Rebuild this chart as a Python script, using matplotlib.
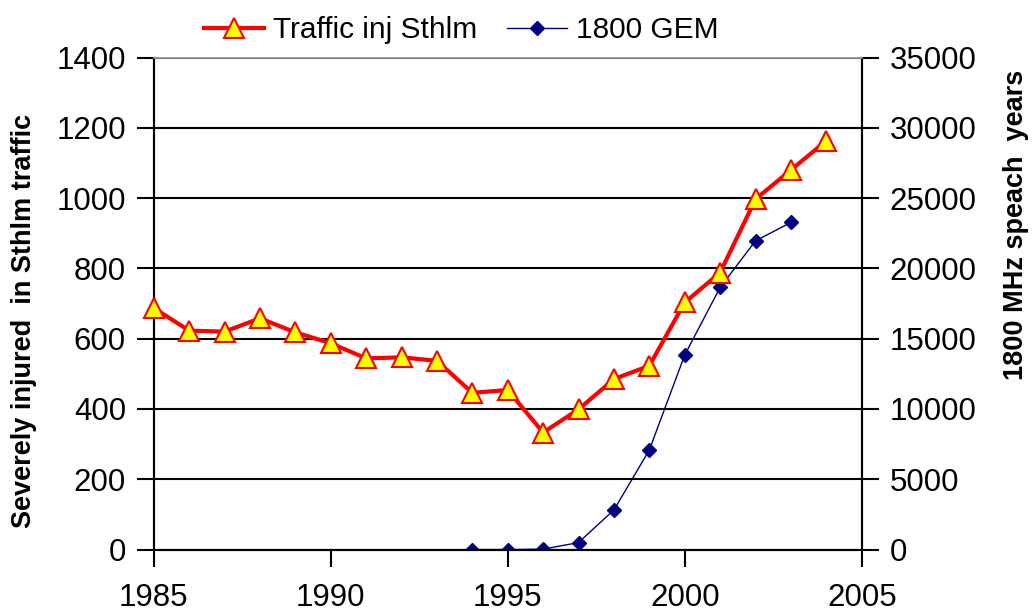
import matplotlib
matplotlib.use("Agg")
import matplotlib.pyplot as plt
from matplotlib.ticker import MultipleLocator

plt.rcParams['font.family'] = ['Liberation Sans', 'DejaVu Sans']

years_traffic = [1985, 1986, 1987, 1988, 1989, 1990, 1991, 1992, 1993, 1994,
                 1995, 1996, 1997, 1998, 1999, 2000, 2001, 2002, 2003, 2004]
traffic_injured = [687, 623, 620, 658, 618, 587, 544, 547, 537, 446,
                   454, 333, 399, 485, 523, 703, 788, 997, 1080, 1163]

years_gem = [1994, 1995, 1996, 1997, 1998, 1999, 2000, 2001, 2002, 2003]
gem_1800 = [0, 0, 30, 500, 2820, 7085, 13840, 18650, 21960, 23270]

left_label = "Severely injured  in Sthlm traffic"
right_label = "1800 MHz speach  years"
traffic_name = "Traffic inj Sthlm"
gem_name = "1800 GEM"

fig = plt.figure(figsize=(10.32, 6.12), dpi=100)
ax = fig.add_axes([0.149, 0.102, 0.686, 0.804])
ax2 = ax.twinx()

ax.set_xlim(1985, 2005)
ax.set_ylim(0, 1400)
ax2.set_ylim(0, 35000)

ax.yaxis.set_major_locator(MultipleLocator(200))
ax2.yaxis.set_major_locator(MultipleLocator(5000))
ax.xaxis.set_major_locator(MultipleLocator(5))

ax.grid(axis='y', color='black', linewidth=1.5)
ax.set_axisbelow(True)

for a in (ax, ax2):
    for s in a.spines.values():
        s.set_color('black')
        s.set_linewidth(1.5)
    a.spines['top'].set_color('#999999')
    a.spines['top'].set_linewidth(1.2)

ax.tick_params(axis='y', direction='out', length=12, width=1.5, labelsize=22.5, pad=8)
ax2.tick_params(axis='y', direction='out', length=12, width=1.5, labelsize=22.5, pad=8)
ax.tick_params(axis='x', direction='out', length=12, width=1.5, labelsize=22.5, pad=12)

ax2.plot(years_gem, gem_1800, color='#000080', linewidth=1.0, marker='D',
         markersize=7.5, markerfacecolor='#000080', markeredgecolor='#000080',
         label=gem_name, zorder=3)
ax.plot(years_traffic, traffic_injured, color='#FF0000', linewidth=3,
        marker='^', markersize=14, markerfacecolor='#FFFF00',
        markeredgecolor='#FF0000', markeredgewidth=1.5,
        label=traffic_name, zorder=4, clip_on=False)
ax.set_zorder(ax2.get_zorder() + 1)
ax.patch.set_visible(False)

fig.text(0.0233, 0.4755, left_label, rotation=90, fontsize=19.5,
         fontweight='bold', ha='center', va='center')
fig.text(0.9845, 0.632, right_label, rotation=90, fontsize=19.5,
         fontweight='bold', ha='center', va='center')

h1, l1 = ax.get_legend_handles_labels()
h2, l2 = ax2.get_legend_handles_labels()
fig.legend(h1 + h2, l1 + l2, loc='center', bbox_to_anchor=(0.447, 0.951),
           ncol=2, frameon=False, fontsize=21.5, handlelength=2.0,
           columnspacing=1.0, handletextpad=0.3)

fig.savefig("out.png", dpi=100)
